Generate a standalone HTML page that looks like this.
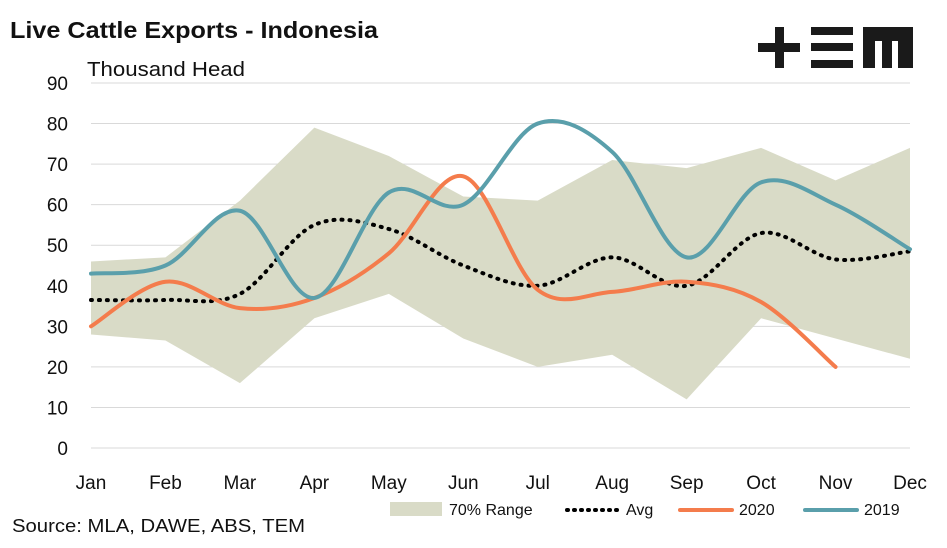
<!DOCTYPE html>
<html><head><meta charset="utf-8"><style>
body{margin:0;background:#fff;font-family:"Liberation Sans",sans-serif}
</style></head><body>
<svg width="947" height="543" viewBox="0 0 947 543" xmlns="http://www.w3.org/2000/svg" font-family="Liberation Sans, sans-serif">
<text x="10" y="38" font-size="23" font-weight="bold" fill="#111" textLength="368" lengthAdjust="spacingAndGlyphs">Live Cattle Exports - Indonesia</text>
<text x="87" y="76" font-size="20" fill="#111" textLength="158" lengthAdjust="spacingAndGlyphs">Thousand Head</text>
<g fill="#1a1a1a">
<rect x="758" y="43" width="42" height="9"/><rect x="775" y="27" width="9" height="41"/>
<rect x="811" y="27" width="42" height="8"/><rect x="811" y="43" width="42" height="8"/><rect x="811" y="60" width="42" height="8"/>
<path d="M863 27H913V68H898V41H892V68H882V41H875V68H863Z"/>
</g>
<g id="grid"></g><g id="marks"></g><g id="axes"></g>
<g font-size="16" fill="#111">
<rect x="390" y="502" width="52" height="14" fill="#d9dbc7"/>
<text x="449" y="515">70% Range</text>
<line x1="567" y1="510" x2="618" y2="510" stroke="#000" stroke-width="4" stroke-dasharray="1 6" stroke-linecap="round"/>
<text x="626" y="515">Avg</text>
<line x1="680" y1="510" x2="732" y2="510" stroke="#f47c4c" stroke-width="4" stroke-linecap="round"/>
<text x="739" y="515">2020</text>
<line x1="805" y1="510" x2="857" y2="510" stroke="#5a9fab" stroke-width="4" stroke-linecap="round"/>
<text x="864" y="515">2019</text>
</g>
<text x="12" y="532" font-size="18" fill="#111" textLength="293" lengthAdjust="spacingAndGlyphs">Source: MLA, DAWE, ABS, TEM</text>
</svg>
<script>
const months=["Jan","Feb","Mar","Apr","May","Jun","Jul","Aug","Sep","Oct","Nov","Dec"];
const yTicks=[0,10,20,30,40,50,60,70,80,90];
const rangeUpper=[46,47,61,79,72,62,61,71,69,74,66,74];
const rangeLower=[28,26.5,16,32,38,27,20,23,12,32,27,22];
const avg=[36.5,36.5,38,55,54,45,40,47,40,53,46.5,48.5];
const s2020=[30,41,34.5,37,48,67,39,38.5,41,36,20];
const s2019=[43,45,58.5,37,63,60,80,73,47,65.5,60,49];
const NS="http://www.w3.org/2000/svg";
const x=i=>91+i*(910-91)/11;
const y=v=>448-v*(448-83)/90;
function mk(t,a,p){const e=document.createElementNS(NS,t);for(const k in a)e.setAttribute(k,a[k]);p.appendChild(e);return e;}
const grid=document.getElementById('grid'),marks=document.getElementById('marks'),axes=document.getElementById('axes');
yTicks.forEach(v=>{
 const l=mk('line',{x1:91,x2:910,y1:y(v),y2:y(v),stroke:'#d9d9d9','stroke-width':1},grid);
 
 
 const t=mk('text',{x:68,y:y(v)+7,'font-size':19,'text-anchor':'end',fill:'#111'},axes);
 t.textContent=v;
 
 
});
months.forEach((m,i)=>{
 const t=mk('text',{x:x(i),y:489,'font-size':19,'text-anchor':'middle',fill:'#111'},axes);
 t.textContent=m;
 
 
});
let pts=rangeUpper.map((v,i)=>x(i)+','+y(v)).concat(rangeLower.map((v,i)=>x(i)+','+y(v)).reverse());
const poly=mk('polygon',{points:pts.join(' '),fill:'#d9dbc7'},marks);


function smooth(vals){
 const p=vals.map((v,i)=>[x(i),y(v)]);
 let d='M'+p[0][0]+','+p[0][1];
 for(let i=0;i<p.length-1;i++){
  const p0=p[i-1]||p[i],p1=p[i],p2=p[i+1],p3=p[i+2]||p2;
  const c1=[p1[0]+(p2[0]-p0[0])/6,p1[1]+(p2[1]-p0[1])/6];
  const c2=[p2[0]-(p3[0]-p1[0])/6,p2[1]-(p3[1]-p1[1])/6];
  d+=' C'+c1+' '+c2+' '+p2;
 }
 return d;
}
const a=mk('path',{d:smooth(avg),fill:'none',stroke:'#000','stroke-width':4,'stroke-dasharray':'1 7','stroke-linecap':'round'},marks);


const l20=mk('path',{d:smooth(s2020),fill:'none',stroke:'#f47c4c','stroke-width':4,'stroke-linecap':'round'},marks);


const l19=mk('path',{d:smooth(s2019),fill:'none',stroke:'#5a9fab','stroke-width':4,'stroke-linecap':'round'},marks);


</script>
</body></html>
